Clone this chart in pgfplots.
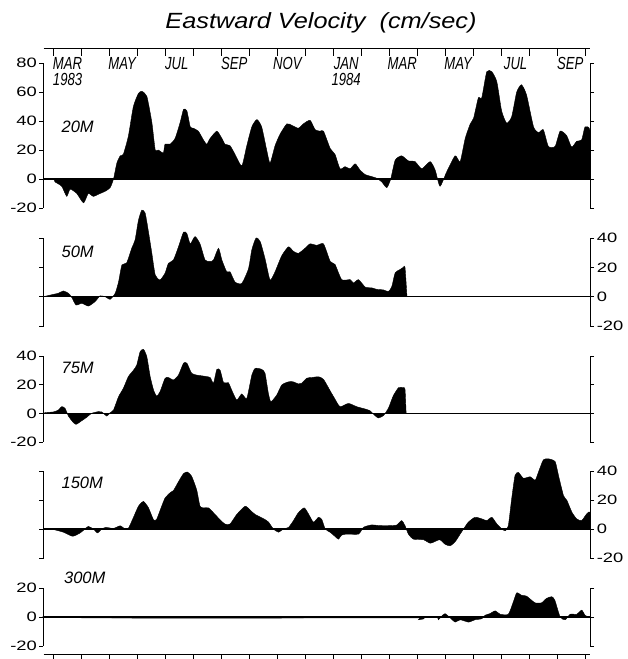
\documentclass[border=0pt]{standalone}
\usepackage{fontspec}
\setmainfont{Liberation Sans}
\usepackage{pgfplots}
\pgfplotsset{compat=1.18}
\usepackage{pgfplotstable}
\newfontfamily\numfont[FakeStretch=1.35]{Liberation Sans}
\newfontfamily\monfont[FakeStretch=0.75]{Liberation Sans}
\newfontfamily\lblfont{Liberation Sans}
\newfontfamily\titfont[FakeStretch=1.15]{Liberation Sans}

\pgfplotstableread{
x y
-0.36 0
0 0
0.05 -2
0.29 -5
0.47 -12
0.59 -7
0.83 -10
1.07 -16.5
1.24 -10
1.42 -12
1.66 -10
1.84 -8.5
2.02 -6
2.14 0
2.26 11
2.38 16
2.49 17
2.67 29.5
2.85 50
3.03 59
3.15 60.5
3.33 57
3.51 39
3.63 20
3.74 20
3.92 18
3.98 24
4.16 24
4.34 28
4.52 39
4.64 48
4.76 47
4.88 36
4.99 35
5.17 33
5.35 27
5.47 24
5.59 28
5.83 33
6.01 28
6.12 24
6.30 23
6.48 17
6.72 9
6.90 23
7.08 36
7.26 41
7.43 36
7.61 20
7.73 11
7.91 23
8.09 31
8.33 38
8.51 37
8.74 35
8.92 38
9.16 40.5
9.34 34
9.52 33
9.64 33
9.88 21
10.05 17
10.23 7
10.41 8.5
10.59 7
10.77 10.5
10.95 6
11.13 3
11.30 2
11.54 0.5
11.72 -2
11.90 -6
12.04 0
12.20 13
12.43 16
12.67 12.5
12.91 12
13.15 7
13.45 12
13.63 6
13.80 -5
14.04 5
14.34 16
14.52 12
14.70 28
14.88 38
15.00 42
15.17 56
15.29 56
15.47 74
15.65 74
15.83 67
16.00 47
16.18 38.5
16.36 43
16.54 60
16.71 65
16.89 58
17.14 36
17.32 32
17.49 34
17.67 22.5
17.91 22.5
18.09 33
18.32 30
18.50 22
18.68 26
18.86 27
18.98 36
19.16 33
19.16 0
}\tabA

\pgfplotstableread{
x y
-0.36 0
0 1.6
0.17 2.3
0.35 3.9
0.53 2.3
0.65 -0.5
0.80 -5.7
1.01 -4.5
1.24 -6.4
1.48 -3.4
1.66 0.5
1.84 0
2.02 -1.8
2.20 2.3
2.32 10
2.44 21.6
2.61 23
2.79 33
2.91 38.6
3.03 52
3.15 59
3.27 57
3.39 44
3.51 29.5
3.63 14.8
3.80 11.4
3.98 16
4.10 22.7
4.28 25
4.46 34
4.64 44
4.76 43
4.88 36
5.05 41
5.23 36
5.41 25
5.59 24
5.71 25
5.89 33
6.01 25
6.18 17
6.30 17
6.48 10
6.72 9
6.96 19
7.08 32
7.23 40
7.38 37.5
7.55 26
7.73 11.4
7.91 17
8.15 28
8.39 34
8.56 31
8.74 29.5
8.98 33
9.16 36
9.40 35
9.64 36
9.88 24
10.05 22
10.29 11.6
10.59 11.6
10.71 9.3
10.89 11.6
11.13 6.5
11.36 6
11.54 5
11.78 4.6
11.96 3.5
12.08 7
12.20 16.3
12.38 18.6
12.49 20
12.55 20
12.62 0
}\tabB

\pgfplotstableread{
x y
-0.36 0
-0.30 0.5
0 1
0.17 2.3
0.29 4.7
0.41 3.5
0.53 -1.9
0.68 -5.8
0.80 -7.7
1.01 -5.1
1.18 -2.8
1.36 0
1.60 1.2
1.72 1
1.90 -1.9
2.02 0.5
2.14 2.3
2.32 11.6
2.49 17.4
2.67 25.6
2.85 30
2.97 33.7
3.09 43
3.21 44.7
3.33 39.5
3.45 25.6
3.57 16.3
3.68 12
3.80 15
3.98 24.4
4.10 25
4.28 23.3
4.46 26.7
4.64 35
4.76 35
4.93 28
5.11 26.7
5.35 26
5.59 25
5.71 21
5.83 30.7
5.95 30
6.07 21.4
6.24 21.4
6.36 16.3
6.54 9.3
6.72 13.5
6.90 10.5
7.08 26.7
7.20 31.4
7.43 30.7
7.55 28
7.67 14
7.76 8.1
7.97 12.8
8.15 19.8
8.39 22
8.56 22
8.74 20.5
8.86 21
9.04 24.5
9.22 25
9.46 25.5
9.64 23.7
9.88 15.6
10.05 9.9
10.23 4.6
10.53 6.9
10.83 4.6
11.13 3
11.30 1.8
11.48 -1.6
11.60 -3.2
11.78 -1.6
11.96 3.7
12.13 12.2
12.32 17.9
12.49 17.9
12.55 16.8
12.59 0
}\tabC

\pgfplotstableread{
x y
-0.36 0
-0.30 0
0 -0.4
0.35 -2.2
0.68 -5
0.95 -2.7
1.12 0
1.24 1.8
1.42 0
1.57 -2.7
1.72 0
1.87 1.1
2.14 0.4
2.38 2.2
2.55 0
2.67 0.4
2.85 7.9
3.03 15.7
3.21 19
3.39 14.6
3.57 6.3
3.68 6.7
3.86 15.7
3.98 21.3
4.16 25
4.28 26.5
4.46 32.6
4.64 38.2
4.78 39.3
4.93 36.4
5.11 27
5.23 15.7
5.35 14.6
5.53 14.6
5.71 11.2
5.95 6.3
6.12 3.4
6.30 3.4
6.54 10
6.84 15.7
7.02 13
7.20 10
7.49 7.2
7.67 4.9
7.85 0
8.03 -2.2
8.21 0
8.39 1.1
8.56 5.6
8.74 11.2
8.95 14.6
9.10 10.5
9.28 4.7
9.46 8.1
9.58 6.5
9.70 0
9.88 -2.3
10.05 -5.1
10.17 -7
10.29 -4.2
10.47 -3.5
10.89 -3.5
11.07 1.2
11.36 2.8
11.66 2.3
12.02 2.3
12.26 2.8
12.43 5.8
12.55 2.3
12.67 -3.5
12.85 -7
13.21 -7.4
13.45 -9.8
13.68 -8.1
13.80 -7.4
13.98 -10.5
14.16 -11.6
14.34 -8.8
14.52 -3.5
14.64 0
14.81 4.7
15.05 8.1
15.29 7
15.47 5.8
15.65 8.1
15.83 3.5
16.01 0
16.13 -1.2
16.24 2.3
16.36 21
16.48 37
16.60 39
16.78 35
17.02 36
17.20 33.7
17.32 39.5
17.49 47.7
17.67 48.4
17.91 46.5
18.03 37
18.21 23
18.33 19.8
18.51 11.6
18.68 7
18.86 5.8
19.04 10.5
19.16 11.6
19.16 0
}\tabD

\pgfplotstableread{
x y
-0.36 0
-0.30 0.4
1.00 0.4
1.10 -0.6
6.00 -0.8
12.90 -0.6
13.03 -1.9
13.15 0
13.69 0
13.74 -1.9
13.86 0.5
13.98 2.3
14.16 -0.5
14.34 -3.5
14.52 -1.9
14.82 -3.5
15.05 -1.9
15.29 -1.2
15.41 1.2
15.58 2.3
15.77 4.2
15.95 1.9
16.24 1.9
16.42 10.5
16.54 16.7
16.71 15
16.89 14.4
17.19 9.8
17.43 9.8
17.60 12.8
17.79 14
17.90 11.6
18.09 0
18.27 -1.9
18.45 1.9
18.68 1.9
18.86 4.7
18.98 1.2
19.10 0
}\tabE

\pgfplotsset{
  panel/.style={
    scale only axis, width=546.6pt, xmin=-0.36, xmax=19.16, clip=false,
    axis x line=none, axis y line=box, xtick=\empty,
    tick align=outside, major tick length=4pt,
    axis line style={line width=1pt,-},
    every outer y axis line/.append style={-},
    ytick style={line width=0.9pt, black},
    yticklabel style={font=\numfont\fontsize{13.6}{15}\selectfont, inner sep=2.5pt},
    /pgf/number format/assume math mode=true,
    anchor=south west,
  },
  area/.style={fill=black, draw=black, line width=0.4pt, smooth, tension=0.35},
  zline/.style={black, line width=1.2pt},
}

\begin{document}
\begin{tikzpicture}
\path[use as bounding box] (0,0) rectangle (627pt,659pt);

\node[anchor=base, font=\titfont\itshape\fontsize{22}{24}\selectfont] at (321pt,630pt) {Eastward Velocity\ \ (cm/sec)};

% top time axis
\begin{axis}[scale only axis, width=546.6pt, height=20pt, xmin=-0.36, xmax=19.16,
  ymin=0, ymax=1, axis x line=top, axis y line=none, clip=false,
  axis line style={line width=1pt,-}, every outer x axis line/.append style={-},
  xtick={0,...,19}, xticklabels={}, tick align=inside, major tick length=7pt,
  xtick style={line width=0.9pt, black},
  anchor=north west, at={(43.5pt,610pt)}]
  \foreach \p/\t in {0.5/{MAR\\1983}, 2.45/MAY, 4.4/JUL, 6.45/SEP, 8.35/NOV, 10.45/{JAN\\1984}, 12.45/MAR, 14.45/MAY, 16.5/JUL, 18.45/SEP}{
    \edef\tmp{\noexpand\node[anchor=north, align=center, inner sep=0pt, yshift=-8pt, font=\noexpand\monfont\noexpand\itshape\noexpand\fontsize{17.5}{16.5}\noexpand\selectfont] at (axis cs:\p,1) {\unexpanded\expandafter{\t}};}
    \tmp
  }
\end{axis}

% bottom time axis
\begin{axis}[scale only axis, width=546.6pt, height=10pt, xmin=-0.36, xmax=19.16,
  ymin=0, ymax=1, axis x line=bottom, axis y line=none,
  axis line style={line width=1pt,-}, every outer x axis line/.append style={-},
  xtick={0,...,19}, xticklabels={}, tick align=outside, major tick length=5pt,
  xtick style={line width=0.9pt, black},
  anchor=south west, at={(43.5pt,5pt)}]
\end{axis}

% 20M
\begin{axis}[panel, height=145pt, ymin=-20, ymax=80, ytick={-20,0,20,40,60,80},
  yticklabel pos=left, at={(43.5pt,451pt)}]
  \addplot[area] table {\tabA};
  \addplot[zline] coordinates {(-0.36,0) (19.16,0)};
  \node[anchor=base west, font=\lblfont\itshape\fontsize{16.5}{18}\selectfont] at (axis cs:0.16,32) {20M};
\end{axis}

% 50M
\begin{axis}[panel, height=88pt, ymin=-20, ymax=40, ytick={-20,0,20,40},
  yticklabel pos=right, at={(43.5pt,333pt)}]
  \addplot[area] table {\tabB};
  \addplot[zline] coordinates {(-0.36,0) (19.16,0)};
  \node[anchor=base west, font=\lblfont\itshape\fontsize{16.5}{18}\selectfont] at (axis cs:0.16,27) {50M};
\end{axis}

% 75M
\begin{axis}[panel, height=86pt, ymin=-20, ymax=40, ytick={-20,0,20,40},
  yticklabel pos=left, at={(43.5pt,217pt)}]
  \addplot[area] table {\tabC};
  \addplot[zline] coordinates {(-0.36,0) (19.16,0)};
  \node[anchor=base west, font=\lblfont\itshape\fontsize{16.5}{18}\selectfont] at (axis cs:0.16,27.6) {75M};
\end{axis}

% 150M
\begin{axis}[panel, height=87pt, ymin=-20, ymax=40, ytick={-20,0,20,40},
  yticklabel pos=right, at={(43.5pt,101pt)}]
  \addplot[area] table {\tabD};
  \addplot[zline] coordinates {(-0.36,0) (19.16,0)};
  \node[anchor=base west, font=\lblfont\itshape\fontsize{16.5}{18}\selectfont] at (axis cs:0.16,27.6) {150M};
\end{axis}

% 300M
\begin{axis}[panel, height=58pt, ymin=-20, ymax=20, ytick={-20,0,20},
  yticklabel pos=left, at={(43.5pt,13pt)}]
  \addplot[area] table {\tabE};
  \addplot[zline] coordinates {(-0.36,0) (19.16,0)};
  \node[anchor=base west, font=\lblfont\itshape\fontsize{16.5}{18}\selectfont] at (axis cs:0.25,23.4) {300M};
\end{axis}
\end{tikzpicture}
\end{document}
